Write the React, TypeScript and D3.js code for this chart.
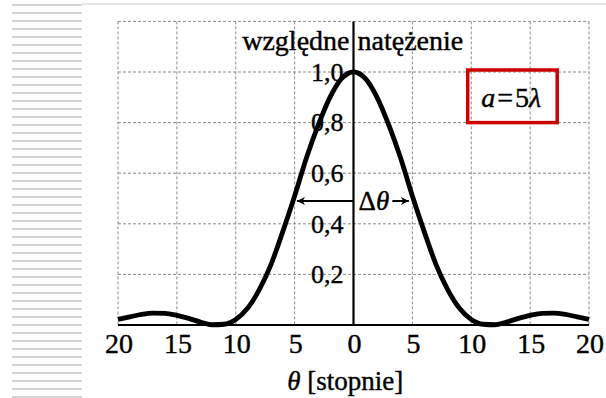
import { useRef, useEffect } from 'react';
import * as d3 from 'd3';

// kąt w stopniach i względne natężenie (a = 5λ)
const thetaDeg = [
    -20, -19, -18, -17, -16, -15, -14, -13, -12, -11, -10, -9, -8, -7, -6, -5, -4, -3, -2, -1, 0,
    1, 2, 3, 4, 5, 6, 7, 8, 9, 10, 11, 12, 13, 14, 15, 16, 17, 18, 19, 20,
];
const intensity = [
    0.022, 0.032, 0.042, 0.047, 0.046, 0.038, 0.026, 0.012, 0.001, 0.003, 0.022, 0.066, 0.14, 0.24, 0.37, 0.51, 0.66, 0.79, 0.9, 0.975, 1.0,
    0.975, 0.9, 0.79, 0.66, 0.51, 0.37, 0.24, 0.14, 0.066, 0.022, 0.003, 0.001, 0.012, 0.026, 0.038, 0.046, 0.047, 0.042, 0.032, 0.022,
];

const xTicks = [-20, -15, -10, -5, 0, 5, 10, 15, 20];
const xTickLabels = ['20', '15', '10', '5', '0', '5', '10', '15', '20'];
const yTicks = [0.2, 0.4, 0.6, 0.8, 1.0];
const yTickLabels = ['0,2', '0,4', '0,6', '0,8', '1,0'];
const yGrid = [0.2, 0.4, 0.6, 0.8, 1.0, 1.2];

export default function App() {
    const ref = useRef<SVGSVGElement>(null);

    useEffect(() => {
        if (!ref.current) return;
        const w = 606;
        const h = 398;
        const svg = d3.select(ref.current);
        svg.selectAll('*').remove();
        svg.attr('width', w).attr('height', h);

        const font = '"Liberation Serif", "DejaVu Serif", serif';
        // skan jest nieco "grubszy" niż czysty font
        const ink = (sel: d3.Selection<any, any, any, any>) =>
            sel.attr('fill', '#000').attr('stroke', '#000').attr('stroke-width', 0.4);

        // paski po lewej (tło slajdu)
        const stripes = d3.range(5, 398, 8);
        svg.append('g')
            .selectAll('line')
            .data(stripes)
            .join('line')
            .attr('x1', 12)
            .attr('x2', 82)
            .attr('y1', (d) => d)
            .attr('y2', (d) => d)
            .attr('stroke', '#d4d4d4')
            .attr('stroke-width', 2);
        svg.append('line')
            .attr('x1', 82).attr('x2', 606).attr('y1', 4).attr('y2', 4)
            .attr('stroke', '#dedede').attr('stroke-width', 1.5);

        const x = d3.scaleLinear().domain([-20, 20]).range([118, 589]);
        const y = d3.scaleLinear().domain([0, 1.2]).range([325, 21.4]);

        // siatka
        const grid = svg.append('g').attr('stroke', '#8a8a8a').attr('stroke-width', 1).attr('stroke-dasharray', '3,2');
        grid.selectAll('.v')
            .data(xTicks.filter((d) => d !== 0))
            .join('line')
            .attr('x1', (d) => x(d))
            .attr('x2', (d) => x(d))
            .attr('y1', y(1.2))
            .attr('y2', y(0));
        grid.selectAll('.h')
            .data(yGrid)
            .join('line')
            .attr('x1', x(-20))
            .attr('x2', x(20))
            .attr('y1', (d) => y(d))
            .attr('y2', (d) => y(d));

        // osie
        svg.append('line')
            .attr('x1', x(-20)).attr('x2', x(20)).attr('y1', y(0)).attr('y2', y(0))
            .attr('stroke', '#000').attr('stroke-width', 2.2);
        svg.append('line')
            .attr('x1', x(0)).attr('x2', x(0)).attr('y1', y(1.2)).attr('y2', y(0))
            .attr('stroke', '#000').attr('stroke-width', 2.2);

        // etykiety osi y
        svg.append('g')
            .selectAll('text')
            .data(yTicks)
            .join('text')
            .attr('x', x(0) - 10)
            .attr('y', (d) => y(d))
            .attr('dy', '0.34em')
            .attr('text-anchor', 'end')
            .attr('font-family', font)
            .attr('font-size', 26)
            .call(ink)
            .text((_, i) => yTickLabels[i]);

        // etykiety osi x
        svg.append('g')
            .selectAll('text')
            .data(xTicks)
            .join('text')
            .attr('x', (d) => x(d) + 1)
            .attr('y', 353)
            .attr('text-anchor', 'middle')
            .attr('font-family', font)
            .attr('font-size', 28)
            .call(ink)
            .text((_, i) => xTickLabels[i]);

        // tytuł osi x
        const xt = svg.append('text')
            .attr('x', x(-0.7))
            .attr('y', 390)
            .attr('text-anchor', 'middle')
            .attr('font-family', font)
            .attr('font-size', 27)
            .call(ink);
        xt.append('tspan').attr('font-style', 'italic').text('θ');
        xt.append('tspan').text(' [stopnie]');

        // tytuł osi y
        svg.append('text')
            .attr('x', x(0) - 4)
            .attr('y', 50)
            .attr('text-anchor', 'end')
            .attr('font-family', font)
            .attr('font-size', 28)
            .call(ink)
            .text('względne');
        svg.append('text')
            .attr('x', x(0) + 4)
            .attr('y', 50)
            .attr('text-anchor', 'start')
            .attr('font-family', font)
            .attr('font-size', 28)
            .call(ink)
            .text('natężenie');

        // krzywa
        const pts = thetaDeg.map((t, i) => ({ t, v: intensity[i] }));
        const line = d3
            .line<{ t: number; v: number }>()
            .x((d) => x(d.t))
            .y((d) => y(d.v))
            .curve(d3.curveMonotoneX);
        svg.append('path')
            .attr('d', line(pts))
            .attr('fill', 'none')
            .attr('stroke', '#000')
            .attr('stroke-width', 4.8)
            .attr('stroke-linejoin', 'round');

        // Δθ ze strzałkami
        const defs = svg.append('defs');
        defs.append('marker')
            .attr('id', 'arr')
            .attr('viewBox', '0 0 10 10')
            .attr('refX', 10)
            .attr('refY', 5)
            .attr('markerWidth', 10)
            .attr('markerHeight', 8)
            .attr('markerUnits', 'userSpaceOnUse')
            .attr('orient', 'auto')
            .append('path')
            .attr('d', 'M0,0 L10,5 L0,10 L3,5 Z')
            .attr('fill', '#000');
        const ya = y(0.49);
        svg.append('line')
            .attr('x1', x(0)).attr('x2', x(-4.8)).attr('y1', ya).attr('y2', ya)
            .attr('stroke', '#000').attr('stroke-width', 2)
            .attr('marker-end', 'url(#arr)');
        svg.append('line')
            .attr('x1', x(3.3)).attr('x2', x(4.7)).attr('y1', ya).attr('y2', ya)
            .attr('stroke', '#000').attr('stroke-width', 2)
            .attr('marker-end', 'url(#arr)');
        const dt = svg.append('text')
            .attr('x', x(0) + 5)
            .attr('y', ya)
            .attr('dy', '0.34em')
            .attr('font-family', font)
            .attr('font-size', 27)
            .call(ink);
        dt.append('tspan').text('Δ');
        dt.append('tspan').attr('font-style', 'italic').text('θ');

        // ramka z parametrem
        svg.append('rect')
            .attr('x', x(9.7))
            .attr('y', y(1.0) - 2)
            .attr('width', x(17.3) - x(9.7))
            .attr('height', y(0.8) - y(1.0) + 2)
            .attr('fill', 'none')
            .attr('stroke', '#cc0000')
            .attr('stroke-width', 3.5);
        const at = svg.append('text')
            .attr('x', x(13.4))
            .attr('y', y(0.9))
            .attr('dy', '0.34em')
            .attr('text-anchor', 'middle')
            .attr('font-family', font)
            .attr('font-size', 28)
            .call(ink);
        at.append('tspan').attr('font-style', 'italic').text('a');
        at.append('tspan').attr('dx', 2).text('=');
        at.append('tspan').attr('dx', 2).text('5');
        at.append('tspan').attr('font-style', 'italic').text('λ');
    }, []);

    return (
        <svg
            ref={ref}
            style={{ position: 'absolute', left: 0, top: 0, display: 'block', background: '#fff' }}
        />
    );
}
